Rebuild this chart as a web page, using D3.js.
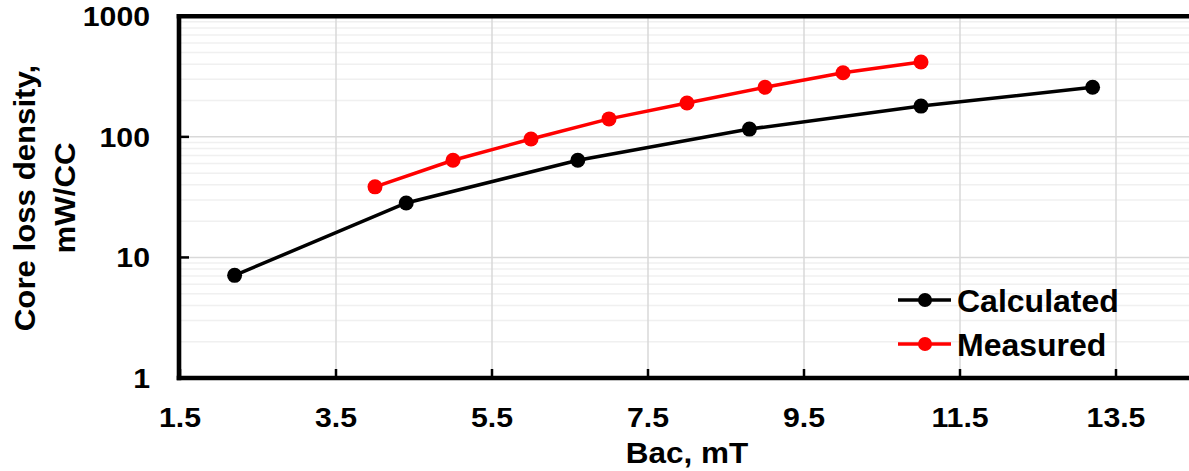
<!DOCTYPE html>
<html>
<head>
<meta charset="utf-8">
<script src="https://d3js.org/d3.v7.min.js"></script>
<style>
    body { margin: 0; background: #fff; }
    svg { display: block; background: #fff; }
    text { font-family: "Liberation Sans", Arial, sans-serif; font-weight: bold; fill: #000; }
</style>
</head>
<body>
<script>
    // Data
    var calcX = [2.2, 4.4, 6.6, 8.8, 11.0, 13.2];
    var calcY = [7.1, 28.3, 64, 116, 180, 258];
    var measX = [4.0, 5.0, 6.0, 7.0, 8.0, 9.0, 10.0, 11.0];
    var measY = [38.5, 64, 96, 141, 191, 258, 340, 418];
    var xTicks = [1.5, 3.5, 5.5, 7.5, 9.5, 11.5, 13.5];
    var yTicks = [1, 10, 100, 1000];
    var seriesNames = ["Calculated", "Measured"];
    var seriesColors = ["#000000", "#ff0000"];

    var W = 1189, H = 471;
    var plotL = 180, plotR = 1194, plotT = 16.3, plotB = 378;

    var x = d3.scaleLinear().domain([1.5, 14.5]).range([plotL, plotR]);
    var y = d3.scaleLog().domain([1, 1000]).range([plotB, plotT]);

    var svg = d3.select("body").append("svg")
        .attr("width", W).attr("height", H);

    // minor horizontal grid (2..9 in each decade)
    var minor = [];
    [1, 10, 100].forEach(function(d) {
        for (var k = 2; k <= 9; k++) minor.push(d * k);
    });
    svg.append("g").selectAll("line").data(minor).enter().append("line")
        .attr("x1", plotL).attr("x2", W)
        .attr("y1", function(d) { return y(d); }).attr("y2", function(d) { return y(d); })
        .attr("stroke", "#f0f0f0").attr("stroke-width", 1.5);

    // major grid
    svg.append("g").selectAll("line").data(yTicks.slice(1, 3)).enter().append("line")
        .attr("x1", plotL).attr("x2", W)
        .attr("y1", function(d) { return y(d); }).attr("y2", function(d) { return y(d); })
        .attr("stroke", "#d9d9d9").attr("stroke-width", 1.5);
    svg.append("g").selectAll("line").data(xTicks.slice(1)).enter().append("line")
        .attr("y1", plotT).attr("y2", plotB)
        .attr("x1", function(d) { return x(d); }).attr("x2", function(d) { return x(d); })
        .attr("stroke", "#d9d9d9").attr("stroke-width", 1.5);

    // tick marks (inward)
    svg.append("g").selectAll("line").data(yTicks).enter().append("line")
        .attr("x1", plotL).attr("x2", plotL + 9)
        .attr("y1", function(d) { return y(d); }).attr("y2", function(d) { return y(d); })
        .attr("stroke", "#000").attr("stroke-width", 2.5);
    svg.append("g").selectAll("line").data(xTicks).enter().append("line")
        .attr("y1", plotB).attr("y2", plotB - 9)
        .attr("x1", function(d) { return x(d); }).attr("x2", function(d) { return x(d); })
        .attr("stroke", "#000").attr("stroke-width", 2.5);

    // frame: left, top, bottom
    svg.append("line").attr("x1", plotL - 1).attr("x2", plotL - 1).attr("y1", plotT - 2.3).attr("y2", plotB + 2.3)
        .attr("stroke", "#000").attr("stroke-width", 4.6);
    svg.append("line").attr("x1", plotL - 3.3).attr("x2", W).attr("y1", plotT).attr("y2", plotT)
        .attr("stroke", "#000").attr("stroke-width", 4.6);
    svg.append("line").attr("x1", plotL - 3.3).attr("x2", W).attr("y1", plotB).attr("y2", plotB)
        .attr("stroke", "#000").attr("stroke-width", 4.6);

    // text helper with slight horizontal stretch
    function label(px, py, str, size, anchor, sx, rot) {
        var t = "translate(" + px + "," + py + ")" + (rot ? " rotate(" + rot + ")" : "") + " scale(" + sx + ",1)";
        return svg.append("text").attr("transform", t)
            .attr("text-anchor", anchor).style("font-size", size + "px").text(str);
    }

    yTicks.forEach(function(d) {
        label(150, y(d) + 10, d, 28, "end", 1.08);
    });
    xTicks.forEach(function(d) {
        label(x(d), 427, d.toFixed(1), 28, "middle", 1.08);
    });

    label(687, 463, "Bac, mT", 30, "middle", 1.05);
    label(35, 198, "Core loss density,", 30, "middle", 1.04, -90);
    label(75, 198, "mW/CC", 30, "middle", 1.04, -90);

    // series
    var series = [
        {x: calcX, y: calcY},
        {x: measX, y: measY}
    ];
    var line = d3.line()
        .x(function(d) { return x(d[0]); })
        .y(function(d) { return y(d[1]); });

    series.forEach(function(s, i) {
        var pts = d3.zip(s.x, s.y);
        svg.append("path").datum(pts)
            .attr("d", line)
            .attr("fill", "none")
            .attr("stroke", seriesColors[i])
            .attr("stroke-width", 3.5);
        svg.append("g").selectAll("circle").data(pts).enter().append("circle")
            .attr("cx", function(d) { return x(d[0]); })
            .attr("cy", function(d) { return y(d[1]); })
            .attr("r", 7.5)
            .attr("fill", seriesColors[i]);
    });

    // legend
    var legY = [300, 344];
    seriesNames.forEach(function(name, i) {
        svg.append("line").attr("x1", 898).attr("x2", 951)
            .attr("y1", legY[i]).attr("y2", legY[i])
            .attr("stroke", seriesColors[i]).attr("stroke-width", 3.5);
        svg.append("circle").attr("cx", 925).attr("cy", legY[i]).attr("r", 7)
            .attr("fill", seriesColors[i]);
        label(957, legY[i] + 11.5, name, 32, "start", 1);
    });
</script>
</body>
</html>
